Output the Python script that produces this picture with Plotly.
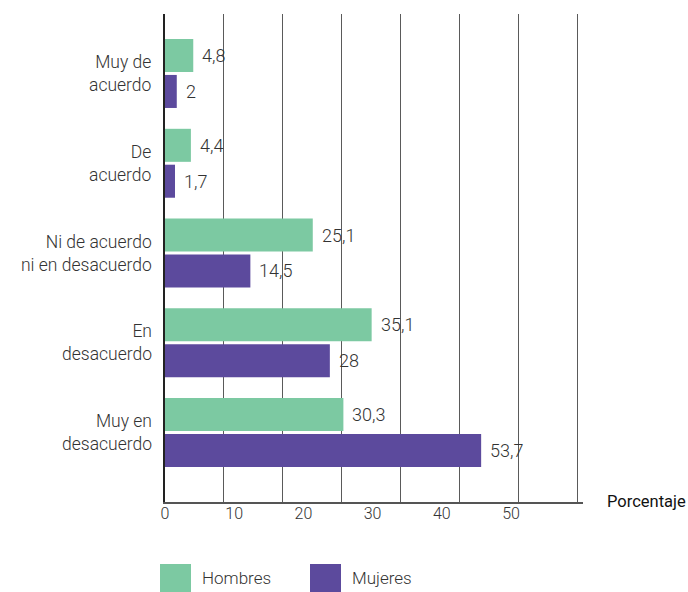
import plotly.graph_objects as go

# Survey responses by sex (percent)
categories = [
    "Muy de<br>acuerdo",
    "De<br>acuerdo",
    "Ni de acuerdo<br>ni en desacuerdo",
    "En<br>desacuerdo",
    "Muy en<br>desacuerdo",
]
hombres = [4.8, 4.4, 25.1, 35.1, 30.3]
mujeres = [2.0, 1.7, 14.5, 28.0, 53.7]
tick_values = [0, 10, 20, 30, 40, 50]

GREEN = "#7cc9a2"
PURPLE = "#5c4a9d"
TEXT = "#333333"
FONT = "Roboto"
LIGHT = 300

W, H = 688, 592
L, R, T, B = 165, 105, 14, 90


def fmt(v):
    s = f"{v:.1f}".rstrip("0").rstrip(".")
    return s.replace(".", ",")


fig = go.Figure()
fig.add_trace(go.Bar(y=categories, x=hombres, orientation="h", name="Hombres",
                     marker=dict(color=GREEN, line=dict(width=0))))
fig.add_trace(go.Bar(y=categories, x=mujeres, orientation="h", name="Mujeres",
                     marker=dict(color=PURPLE, line=dict(width=0))))

ann = []
# Category labels, right-aligned against the axis
for i, c in enumerate(categories):
    ann.append(dict(x=0, y=i, xref="paper", yref="y", text=c, showarrow=False,
                    xanchor="right", yanchor="middle", align="right", xshift=-11,
                    font=dict(family=FONT, size=17.5, color=TEXT, weight=LIGHT)))

# Value labels next to each bar
for i, c in enumerate(categories):
    for vals, off in ((hombres, -0.2), (mujeres, 0.2)):
        ann.append(dict(x=vals[i], y=i + off, xref="x", yref="y",
                        text=fmt(vals[i]), showarrow=False,
                        xanchor="left", yanchor="middle", xshift=7,
                        font=dict(family=FONT, size=18, color=TEXT, weight=LIGHT)))

# Axis title at the right end of the x axis
ann.append(dict(x=(605 - L) / (W - L - R), y=(H - B - 501) / (H - T - B),
                xref="paper", yref="paper", text="Porcentaje", showarrow=False,
                xanchor="left", yanchor="middle",
                font=dict(family=FONT, size=16.5, color="#111111", weight=400)))

# Legend drawn as large swatches
pw, ph = W - L - R, H - T - B
def px(x):
    return (x - L) / pw
def py(y):
    return (H - B - y) / ph

shapes = []
for x0, color, label in ((160, GREEN, "Hombres"), (310, PURPLE, "Mujeres")):
    shapes.append(dict(type="rect", xref="paper", yref="paper",
                       x0=px(x0), x1=px(x0 + 31), y0=py(592), y1=py(564),
                       fillcolor=color, line=dict(width=0), layer="above"))
    ann.append(dict(x=px(x0 + 40), y=py(578), xref="paper", yref="paper",
                    text=label, showarrow=False, xanchor="left", yanchor="middle",
                    font=dict(family=FONT, size=17, color=TEXT, weight=LIGHT)))

fig.update_layout(
    width=W, height=H,
    margin=dict(l=L, r=R, t=T, b=B, pad=0),
    plot_bgcolor="white", paper_bgcolor="white",
    barmode="group", bargap=0.2, bargroupgap=0.08,
    showlegend=False,
    annotations=ann, shapes=shapes,
    xaxis=dict(range=[0, 71], dtick=10, tick0=0, showgrid=True,
               gridcolor="#5a5a5a", gridwidth=1, showticklabels=False,
               zeroline=False, showline=True, linecolor="#555555", linewidth=1.5,
               ticks="", fixedrange=True),
    xaxis2=dict(overlaying="x", side="bottom", anchor="y",
                range=[0, 60.4], tickvals=tick_values,
                ticktext=[str(v) for v in tick_values],
                showgrid=False, zeroline=False, showline=False, ticks="",
                tickfont=dict(family=FONT, size=16, color=TEXT, weight=LIGHT)),
    yaxis=dict(type="category", range=[4.774, -0.663], showgrid=False,
               zeroline=False, showline=True, linecolor="#222222", linewidth=1.5,
               ticks="", showticklabels=False),
)

# invisible trace to carry the secondary tick axis
fig.add_trace(go.Scatter(x=[0], y=[categories[0]], xaxis="x2", mode="markers",
                         marker=dict(opacity=0), hoverinfo="skip", showlegend=False))

fig.write_html("out.html")
